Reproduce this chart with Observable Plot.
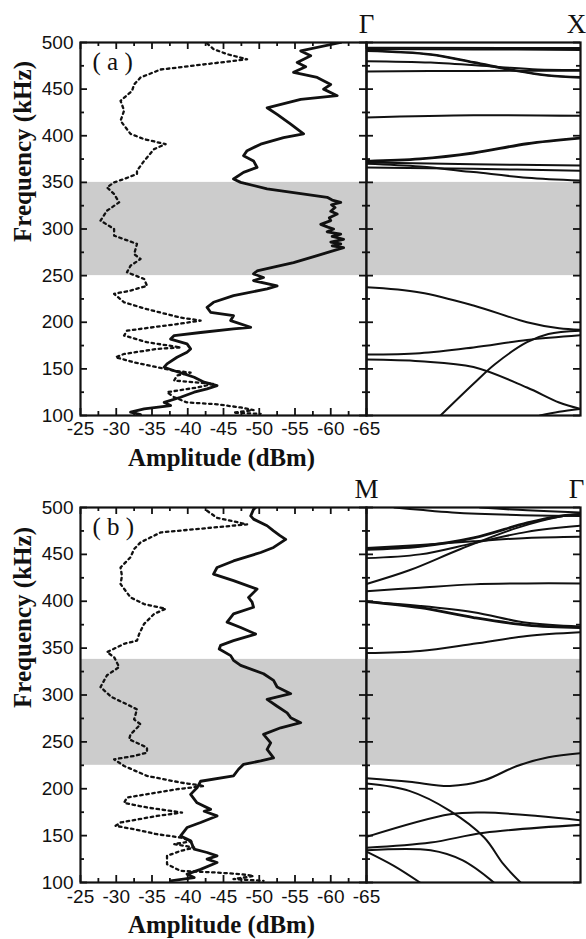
<!DOCTYPE html>
<html><head><meta charset="utf-8">
<script src="https://cdn.jsdelivr.net/npm/d3@7"></script>
<script src="https://cdn.jsdelivr.net/npm/@observablehq/plot@0.6"></script>
<style>
body{margin:0;background:#fff;}
#wrap{position:relative;width:586px;height:939px;overflow:hidden;background:#fff;}
#wrap svg{position:absolute;left:0;background:transparent !important;max-width:none !important;overflow:visible;}
</style></head><body><div id="wrap"></div>
<script>
// ---------- tick values / labels ----------
const ampTicks = [-25,-30,-35,-40,-45,-50,-55,-60,-65];
const ampMinor = [-27.5,-32.5,-37.5,-42.5,-47.5,-52.5,-57.5,-62.5];
const freqTicks = [100,150,200,250,300,350,400,450,500];
const freqMinor = [125,175,225,275,325,375,425,475];
const kLabelsA = ["Γ","X"];
const kLabelsB = ["M","Γ"];
const kPos = [0,1];
const panelLabels = ["( a )","( b )"];
const xTitle = "Amplitude (dBm)";
const yTitle = "Frequency (kHz)";

// ---------- band gaps (kHz) ----------
const gapA = [250,350];
const gapB = [225,338];

// ---------- panel (a) measured spectra: [frequency kHz, amplitude dBm] ----------
const aSolid = [[500,-61.4],[491,-55.8],[485.7,-57.2],[478.6,-55.3],[474,-56.5],[468,-54.8],[462.5,-58.1],[455,-60],[450,-59],[443,-60.9],[439,-55.8],[430,-51.1],[423,-52.5],[412.5,-54.4],[402,-56.2],[398,-53.4],[391,-50.2],[384,-48.3],[378.6,-47.8],[373,-49.2],[366,-49.7],[360.7,-47.8],[353.6,-46.4],[350,-47.4],[343,-51.1],[338,-55.8],[334,-59.5],[331,-60.2],[328.6,-61.4],[326,-60.1],[323,-60.6],[319,-60.0],[316,-60.9],[312,-59.8],[309,-60],[305,-58.6],[302,-59.6],[300,-60.4],[297,-59.5],[294.6,-61.4],[292,-60.2],[289,-61.8],[286,-60.0],[284,-61.4],[282,-60.2],[280,-61.8],[276.8,-60.4],[271.4,-58.1],[264,-54.8],[259,-52],[255,-49.7],[251.8,-49.2],[248,-50.6],[244.6,-49.2],[239,-52.5],[235.7,-51.1],[228.6,-46.4],[221.4,-43.6],[216,-42.7],[210.7,-43.2],[207,-46.4],[201.8,-46],[194.6,-48.8],[193,-46.4],[189,-41.8],[185.7,-38.1],[182,-37.6],[176.8,-39.9],[171.4,-40.4],[167.9,-39.9],[162.5,-38.5],[155.4,-37.1],[151.8,-36.7],[148,-38.1],[144.6,-39.5],[141,-40.9],[135.7,-42.3],[132,-44.1],[128.6,-42.7],[125,-40.9],[119.6,-39],[114,-36.7],[110.7,-37.6],[107,-33.9],[103.6,-32],[101,-33.4]];
const aDotted = [[499,-42.7],[493,-43.6],[487.5,-45.5],[482,-48.3],[471,-36.2],[462.5,-33.4],[455,-32.5],[448,-32.2],[437.5,-30.6],[427,-31.1],[416,-30.6],[402,-32],[396.4,-33.9],[391,-36.9],[385.7,-35.3],[373,-33.9],[362.5,-32.9],[359,-32.9],[353.6,-31.1],[350,-29.7],[344.6,-28.7],[337.5,-29.7],[328.6,-30.4],[319.6,-28.7],[309,-27.8],[300,-29.7],[292.9,-29.7],[284,-32.9],[273,-32.5],[267.9,-33.4],[260.7,-32],[253.6,-31.5],[246.4,-33.9],[239,-34.3],[234,-32],[230.4,-29.7],[221.4,-31.1],[214,-34.3],[205,-39],[201.8,-41.8],[198,-38.5],[191,-31.5],[185.7,-31.1],[178.6,-34.3],[173,-39],[171.4,-35.7],[166,-31.1],[162.5,-29.9],[157,-32.5],[151.8,-35.7],[148,-38.1],[146,-40.4],[142.9,-38.5],[137.5,-38.1],[135.7,-40.9],[134,-43.6],[130,-41.3],[125,-37.1],[119.6,-38.1],[114,-39.9],[112,-44.1],[108.6,-47.4],[105.7,-49.2],[103,-46.4],[101.8,-50.2]];

// ---------- panel (b) measured spectra ----------
const bSolid = [[500,-49.5],[498,-49.2],[491,-48.8],[487.6,-49.2],[480.5,-51.1],[475,-52],[470,-52.9],[466,-53.7],[457.4,-52],[452,-50.2],[443,-46.4],[436,-44.1],[429,-43.6],[422,-46.4],[413,-49.7],[404,-48.5],[399,-49],[393.6,-49.2],[386.5,-46.4],[377.7,-45.5],[372,-47.4],[365,-49.5],[358,-46.4],[353,-44.6],[349,-44.4],[342,-46],[337,-46.4],[331.6,-47.4],[322.7,-50.6],[315.6,-52],[308.5,-52.5],[301.4,-54.4],[295.4,-51.1],[288,-52.5],[281,-53.9],[275.8,-54.4],[270.5,-55.8],[265,-53],[258,-50.6],[249,-51.6],[242,-51.1],[233,-52],[229.7,-50.2],[226,-47.8],[220.8,-47.1],[213.7,-46.4],[208,-41.8],[201,-41.3],[194,-40.4],[185,-41.3],[178,-43.2],[176,-42.3],[171,-44.1],[164,-41.8],[158.6,-39.9],[149.7,-39],[144.4,-40.4],[135.5,-40.9],[132,-42.7],[128.4,-44.1],[125,-42.7],[121.3,-44.1],[114,-41.8],[108.9,-39.9],[105.3,-40.9],[101.8,-37.6]];
const bDotted = [[496.5,-42.7],[489,-44.1],[482,-48.3],[473.4,-36.2],[462.8,-33.4],[455.7,-32.5],[447,-32],[436,-30.6],[427,-30.8],[418.4,-30.6],[404,-32],[397,-33.9],[392,-36.9],[386.5,-35.3],[375.9,-33.9],[365,-33.2],[358,-32.9],[354.6,-31.1],[345.7,-28.7],[340.4,-29.7],[329.8,-30.4],[321,-28.7],[308.5,-27.8],[298,-29.3],[290,-31.5],[284.7,-32.9],[274,-32.5],[268.7,-33.4],[258,-32],[252.8,-31.8],[243.9,-34.3],[238.5,-34.3],[235,-32.5],[231.4,-29.7],[224.3,-31.1],[213.7,-34.3],[206.6,-39],[203,-42.3],[199.5,-38.5],[190.6,-31.5],[185,-31.1],[180,-34.3],[174.6,-39.2],[171,-35.7],[164,-30.6],[160.4,-29.9],[156.8,-32.5],[151.5,-35.7],[148,-39],[144,-40.5],[141,-38.1],[137.3,-40.9],[133.7,-39],[128.4,-37.1],[119.5,-37.1],[112.4,-39],[110.6,-44.1],[108.9,-47.4],[107,-49.2],[103.6,-46.4],[101.8,-50.6]];

// ---------- band structures: each band is a list of [k (0..1), frequency kHz] ----------
const bandsA = [
  [[0,494.5],[1,494]],
  [[0,493],[0.5,492.6],[1,492]],
  [[0,491.5],[0.3,487.5],[0.5,479],[0.7,470],[0.85,465],[1,463]],
  [[0,490.8],[0.3,486.8],[0.5,478.2],[0.7,469.3],[0.85,464.3],[1,462.2]],
  [[0,480],[0.3,478.5],[0.6,474],[0.8,471],[1,470.5]],
  [[0,469],[0.5,469.5],[1,469.8]],
  [[0,419.6],[0.5,422],[1,421.4]],
  [[0,373],[0.25,375.5],[0.5,382],[0.75,392],[1,398]],
  [[0,372.2],[0.25,374.7],[0.5,381],[0.75,391],[1,397]],
  [[0,371.4],[0.5,369.5],[1,368]],
  [[0,366],[0.5,364.5],[1,362.5]],
  [[0,370],[0.25,367],[0.5,361],[0.75,355],[1,352]],
  [[0,237.5],[0.25,232],[0.5,218],[0.75,200],[0.9,193.5],[1,192]],
  [[0,165.4],[0.25,166.8],[0.5,173],[0.75,181],[1,186]],
  [[0,160],[0.25,158.2],[0.5,152],[0.75,130],[0.9,114],[1,107]],
  [[0.346,100],[0.5,134],[0.6,155],[0.75,178.6],[0.85,187.5],[1,191]],
  [[0.81,100],[0.9,104],[1,107]]
];
const bandsB = [
  [[0.13,500],[0.25,497.5],[0.4,494.7],[0.7,492],[1,491]],
  [[0.53,500],[0.75,497],[1,494.7]],
  [[0,455.7],[0.25,459],[0.5,468],[0.75,484],[0.9,491],[1,493]],
  [[0,454.9],[0.25,458.2],[0.5,467.2],[0.75,483.2],[0.9,490.2],[1,492.2]],
  [[0,446],[0.25,450],[0.5,462],[0.75,474],[1,480.5]],
  [[0,456.7],[0.25,460],[0.5,464],[0.75,467.5],[1,468.8]],
  [[0,418.4],[0.2,433],[0.44,455.7],[0.7,478],[0.9,490],[1,493]],
  [[0,410.6],[0.25,414.5],[0.5,418],[0.75,419],[1,419]],
  [[0,400],[0.25,393.5],[0.5,383],[0.75,375],[1,372.3]],
  [[0,399.2],[0.25,392.7],[0.5,382.2],[0.75,374.2],[1,371.5]],
  [[0,399.5],[0.25,395],[0.5,388.3],[0.75,377],[1,373]],
  [[0,344.7],[0.25,347],[0.5,354.6],[0.75,363],[1,367]],
  [[0,211.2],[0.2,207.5],[0.39,203],[0.55,209],[0.7,224],[0.85,233.5],[1,237.8]],
  [[0,205.5],[0.2,197.7],[0.39,176.4],[0.55,148],[0.64,119.5],[0.72,100]],
  [[0,148.7],[0.39,172.8],[0.55,174.6],[0.8,171],[1,166.4]],
  [[0,137],[0.3,142.6],[0.55,153],[1,161.5]],
  [[0,134.3],[0.3,134.3],[0.45,123.5],[0.595,100]],
  [[0,133],[0.128,117.8],[0.25,100]]
];

// ---------- layout ----------
const W = 586;
const X0 = 80, XD = 366, X1 = 580;
const SANS = "Liberation Sans, Arial, Helvetica, sans-serif";
const SERIF = "Liberation Serif, Times New Roman, Times, serif";
const INK = "#111";
const MAJ = 7, MIN = 4;

const panels = [
  {top: 0, mt: 42, ph: 373, pad: 6, tdy: 42, solid: aSolid, dotted: aDotted, gap: gapA, bands: bandsA, kLab: kLabelsA, label: panelLabels[0]},
  {top: 465, mt: 42, ph: 375, pad: 7, tdy: 42, solid: bSolid, dotted: bDotted, gap: gapB, bands: bandsB, kLab: kLabelsB, label: panelLabels[1]}
];
const MB = 57;
const wrap = document.getElementById("wrap");
const ident = d => d;

for (const p of panels) {
  const H = p.mt + p.ph + MB;
  const pw = XD - X0, ph = p.ph;
  const solid = p.solid.map(([f, a]) => ({f, a}));
  const dotted = p.dotted.map(([f, a]) => ({f, a}));
  const style = {background: "transparent", fontFamily: SANS, fontSize: "19px", overflow: "visible"};

  const left = Plot.plot({
    width: W, height: H,
    marginLeft: X0, marginRight: W - XD, marginTop: p.mt, marginBottom: MB,
    x: {domain: [ampTicks[0], ampTicks[ampTicks.length - 1]]},
    y: {domain: [freqTicks[0], freqTicks[freqTicks.length - 1]]},
    style,
    marks: [
      Plot.rect([p.gap], {x1: () => ampTicks[0], x2: () => ampTicks[ampTicks.length - 1], y1: d => d[0], y2: d => d[1], fill: "#cccccc"}),
      Plot.line(dotted, {x: "a", y: "f", stroke: INK, strokeWidth: 2.3, strokeDasharray: "2.5,3.6", clip: true}),
      Plot.line(solid, {x: "a", y: "f", stroke: INK, strokeWidth: 2.8, strokeLinejoin: "round", clip: true}),
      // inward ticks
      Plot.tickX(ampTicks, {x: ident, insetTop: ph - MAJ, stroke: INK, strokeWidth: 1.8}),
      Plot.tickX(ampMinor, {x: ident, insetTop: ph - MIN, stroke: INK, strokeWidth: 1.8}),
      Plot.tickX(ampTicks, {x: ident, insetBottom: ph - MAJ, stroke: INK, strokeWidth: 1.8}),
      Plot.tickX(ampMinor, {x: ident, insetBottom: ph - MIN, stroke: INK, strokeWidth: 1.8}),
      Plot.tickY(freqTicks, {y: ident, insetRight: pw - MAJ, stroke: INK, strokeWidth: 1.8}),
      Plot.tickY(freqMinor, {y: ident, insetRight: pw - MIN, stroke: INK, strokeWidth: 1.8}),
      Plot.tickY(freqTicks, {y: ident, insetLeft: pw - MAJ, stroke: INK, strokeWidth: 1.8}),
      Plot.tickY(freqMinor, {y: ident, insetLeft: pw - MIN, stroke: INK, strokeWidth: 1.8}),
      Plot.frame({stroke: INK, strokeWidth: 2.2}),
      Plot.axisX(ampTicks, {anchor: "bottom", tickSize: 0, tickPadding: p.pad, tickFormat: d => String(d), fontSize: 19, fontFamily: SANS, fill: INK, label: null}),
      Plot.axisY(freqTicks, {anchor: "left", tickSize: 0, tickPadding: 7, tickFormat: d => String(d), fontSize: 19, fontFamily: SANS, fill: INK, label: null}),
      Plot.text([p.label], {text: ident, frameAnchor: "top-left", dx: 12, dy: 10, textAnchor: "start", lineAnchor: "top", fontFamily: SERIF, fontSize: 25, fill: INK}),
      Plot.text([yTitle], {text: ident, frameAnchor: "left", dx: -58, dy: 13, rotate: -90, lineAnchor: "middle", fontFamily: SERIF, fontWeight: "bold", fontSize: 25, fill: INK}),
      Plot.text([xTitle], {text: ident, frameAnchor: "bottom", dx: -2, dy: p.tdy, lineAnchor: "middle", fontFamily: SERIF, fontWeight: "bold", fontSize: 25, fill: INK})
    ]
  });

  const rows = [];
  p.bands.forEach((b, i) => b.forEach(([k, f]) => rows.push({k, f, id: i})));
  const rw = X1 - XD;
  const right = Plot.plot({
    width: W, height: H,
    marginLeft: XD, marginRight: W - X1, marginTop: p.mt, marginBottom: MB,
    x: {domain: [0, 1], axis: null},
    y: {domain: [freqTicks[0], freqTicks[freqTicks.length - 1]], axis: null},
    style,
    marks: [
      Plot.rect([p.gap], {x1: () => 0, x2: () => 1, y1: d => d[0], y2: d => d[1], fill: "#cccccc"}),
      Plot.line(rows, {x: "k", y: "f", z: "id", curve: "catmull-rom", stroke: INK, strokeWidth: 2, clip: true}),
      Plot.tickY(freqTicks, {y: ident, insetRight: rw - MAJ, stroke: INK, strokeWidth: 1.8}),
      Plot.tickY(freqMinor, {y: ident, insetRight: rw - MIN, stroke: INK, strokeWidth: 1.8}),
      Plot.tickY(freqTicks, {y: ident, insetLeft: rw - MAJ, stroke: INK, strokeWidth: 1.8}),
      Plot.tickY(freqMinor, {y: ident, insetLeft: rw - MIN, stroke: INK, strokeWidth: 1.8}),
      Plot.frame({stroke: INK, strokeWidth: 2.2}),
      Plot.text([p.kLab[0]], {text: ident, x: () => kPos[0], frameAnchor: "top", dx: 0, dy: -10, lineAnchor: "bottom", fontFamily: SERIF, fontSize: 27, fill: INK}),
      Plot.text([p.kLab[1]], {text: ident, x: () => kPos[1], frameAnchor: "top", dx: -4, dy: -10, lineAnchor: "bottom", fontFamily: SERIF, fontSize: 27, fill: INK})
    ]
  });

  for (const svg of [left, right]) {
    svg.style.top = p.top + "px";
    wrap.appendChild(svg);
  }
  // keep the title lengths as in the reference whatever serif face is found
  left.querySelectorAll("text").forEach(t => {
    if (t.textContent === yTitle) { t.setAttribute("textLength", 181); t.setAttribute("lengthAdjust", "spacingAndGlyphs"); }
    if (t.textContent === xTitle) { t.setAttribute("textLength", 187); t.setAttribute("lengthAdjust", "spacingAndGlyphs"); }
  });
}
</script></body></html>
